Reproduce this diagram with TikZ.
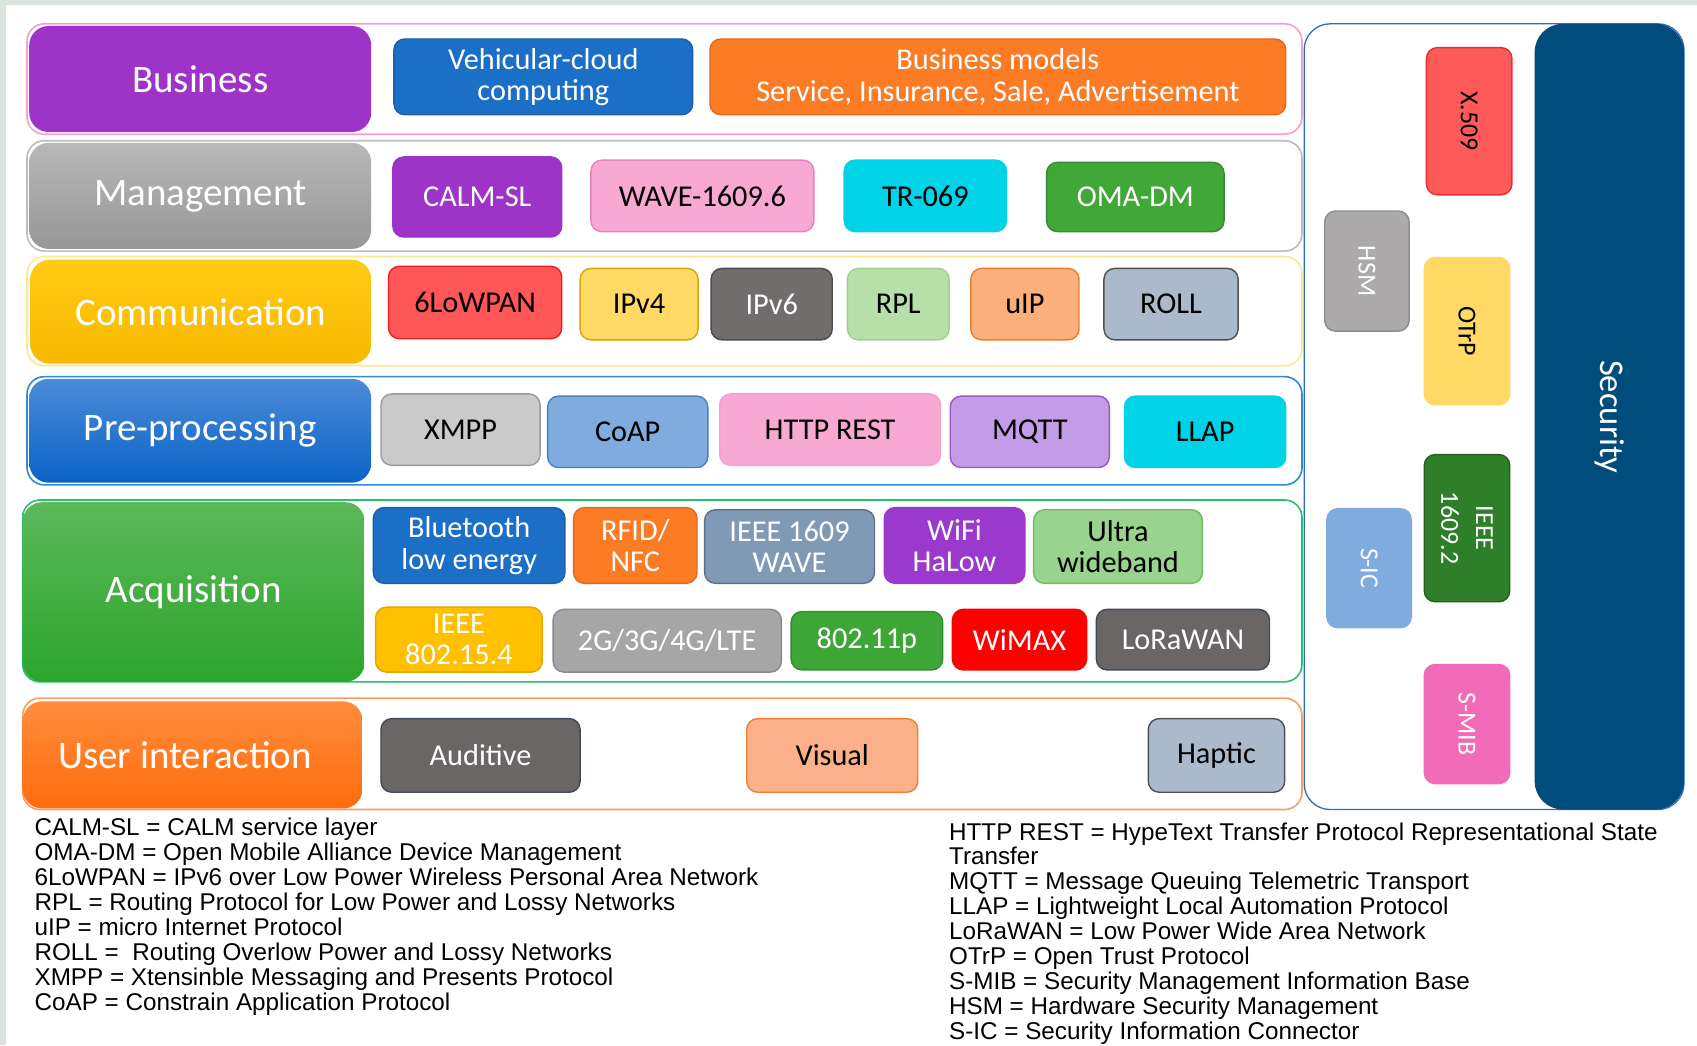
\documentclass[tikz,border=0pt]{standalone}
\usepackage{fontspec}
\setmainfont{Carlito}
\newfontfamily\legendfont{Liberation Sans}

% palette
\definecolor{frameGreen}{HTML}{DBE4DC}
\definecolor{busLine}{HTML}{F59FD3}
\definecolor{busPurple}{HTML}{9D33C7}
\definecolor{vcBlue}{HTML}{1B6FC6}
\definecolor{vcBlueD}{HTML}{1A5FA8}
\definecolor{bmOrange}{HTML}{FB7C24}
\definecolor{bmOrangeD}{HTML}{E0691A}
\definecolor{mgLine}{HTML}{BDBDBD}
\definecolor{mgTop}{HTML}{B8B8B8}
\definecolor{mgBot}{HTML}{979797}
\definecolor{calmPurple}{HTML}{9E33C8}
\definecolor{wavePink}{HTML}{F7A8D3}
\definecolor{wavePinkD}{HTML}{EA7FBD}
\definecolor{cyanT}{HTML}{00D3E6}
\definecolor{omaGreen}{HTML}{41A838}
\definecolor{omaGreenD}{HTML}{358C2E}
\definecolor{comLine}{HTML}{FDE893}
\definecolor{comTop}{HTML}{FFCB14}
\definecolor{comBot}{HTML}{F9B800}
\definecolor{lowRed}{HTML}{FF5757}
\definecolor{lowRedD}{HTML}{F01C1C}
\definecolor{ipvYellow}{HTML}{FFD966}
\definecolor{ipvYellowD}{HTML}{D8A600}
\definecolor{ipvGrey}{HTML}{716D6D}
\definecolor{ipvGreyD}{HTML}{4D4D4D}
\definecolor{rplGreen}{HTML}{B6E0A8}
\definecolor{rplGreenD}{HTML}{A0D090}
\definecolor{uipOrange}{HTML}{FBB07C}
\definecolor{uipOrangeD}{HTML}{EC7D2E}
\definecolor{steelBlue}{HTML}{AAB9CC}
\definecolor{darkEdge}{HTML}{505050}
\definecolor{preLine}{HTML}{2F8AD8}
\definecolor{preTop}{HTML}{4C8BD8}
\definecolor{preBot}{HTML}{0A63C7}
\definecolor{xmppGrey}{HTML}{CACACA}
\definecolor{xmppGreyD}{HTML}{9A9A9A}
\definecolor{coapBlue}{HTML}{80ABDF}
\definecolor{coapBlueD}{HTML}{4B7FC0}
\definecolor{mqttLav}{HTML}{C39BE6}
\definecolor{mqttLavD}{HTML}{9C55C6}
\definecolor{acqLine}{HTML}{24C56A}
\definecolor{acqTop}{HTML}{5CB85A}
\definecolor{acqBot}{HTML}{2CA52C}
\definecolor{waveSteel}{HTML}{8099B5}
\definecolor{waveSteelD}{HTML}{5A6F88}
\definecolor{wifiPurple}{HTML}{9A39CB}
\definecolor{uwbGreen}{HTML}{98D48D}
\definecolor{uwbGreenD}{HTML}{6CBD5C}
\definecolor{zigYellow}{HTML}{FFC000}
\definecolor{zigYellowD}{HTML}{E0A800}
\definecolor{cellGrey}{HTML}{A6A6A6}
\definecolor{cellGreyD}{HTML}{8A8A8A}
\definecolor{pGreen}{HTML}{3EA636}
\definecolor{wimaxRed}{HTML}{FF0000}
\definecolor{loraGrey}{HTML}{6A6666}
\definecolor{slateEdge}{HTML}{3F4A5A}
\definecolor{uiLine}{HTML}{FB9D62}
\definecolor{uiTop}{HTML}{FF8C3C}
\definecolor{uiBot}{HTML}{FF6C0C}
\definecolor{visOrange}{HTML}{FBB08A}
\definecolor{visOrangeD}{HTML}{F08030}
\definecolor{secLine}{HTML}{2E70B8}
\definecolor{secNavy}{HTML}{004C7C}
\definecolor{x509Red}{HTML}{FF5A5A}
\definecolor{x509RedD}{HTML}{E63030}
\definecolor{hsmGrey}{HTML}{ACAAAA}
\definecolor{hsmGreyD}{HTML}{8C8C8C}
\definecolor{dsrcGreen}{HTML}{2F7E2A}
\definecolor{dsrcGreenD}{HTML}{245F20}
\definecolor{smibPink}{HTML}{F26BB8}

\tikzset{
  tilebase/.style={inner sep=0pt, outer sep=0pt, align=center},
  rowline/.style={rounded corners=16pt, line width=1.5pt, fill=white},
  layer/.style={rounded corners=18pt, text=white, font=\fontsize{36}{40}\selectfont},
  tile/.style={rounded corners=10pt, line width=1.3pt, font=\fontsize{28}{29}\selectfont},
  vtext/.style={rounded corners=10pt, line width=1.3pt, font=\fontsize{24}{32}\selectfont},
  legend/.style={inner sep=0pt, outer sep=0pt, align=left, anchor=north west,
    font=\legendfont\fontsize{22.4}{23}\selectfont}
}

% a box given by its corners: name, x1, y1, x2, y2, style, text
\newcommand\tile[7]{%
  \pgfmathsetmacro\tileW{#4-#2}\pgfmathsetmacro\tileH{#5-#3}%
  \node[tilebase,#6,minimum width=\tileW pt,minimum height=\tileH pt]
    (#1) at ({(#2+#4)/2},{(#3+#5)/2}) {#7};}
% the same with text running top to bottom
\newcommand\vtile[7]{%
  \pgfmathsetmacro\tileW{#4-#2}\pgfmathsetmacro\tileH{#5-#3}%
  \node[tilebase,#6,rotate=-90,minimum width=\tileH pt,minimum height=\tileW pt]
    (#1) at ({(#2+#4)/2},{(#3+#5)/2}) {#7};}

\begin{document}
\begin{tikzpicture}[x=1pt,y=-1pt]
\useasboundingbox (0,0) rectangle (1568,966);
\fill[frameGreen] (0,0) rectangle (1568,966);
\fill[white] (6,5) rectangle (1568,966);

% ---- Business
\tile{busRow}{25}{22}{1203}{124}{rowline,draw=busLine}{}
\tile{busLbl}{27}{24}{343}{122}{layer,fill=busPurple}{Business}
\tile{vcc}{364}{36}{640}{106}{tile,fill=vcBlue,draw=vcBlueD,text=white}{Vehicular-cloud\\computing}
\tile{bizModels}{656}{36}{1188}{106}{tile,fill=bmOrange,draw=bmOrangeD,text=white}{Business models\\Service, Insurance, Sale, Advertisement}

% ---- Management
\tile{mgRow}{25}{130}{1203}{232}{rowline,draw=mgLine}{}
\tile{mgLbl}{27}{132}{343}{230}{layer,top color=mgTop,bottom color=mgBot}{Management}
\tile{calm}{363}{145}{519}{219}{tile,fill=calmPurple,draw=calmPurple,text=white}{CALM-SL}
\tile{wave}{546}{148}{752}{214}{tile,fill=wavePink,draw=wavePinkD}{WAVE-1609.6}
\tile{tr}{780}{148}{930}{214}{tile,fill=cyanT,draw=cyanT}{TR-069}
\tile{oma}{967}{150}{1131}{214}{tile,fill=omaGreen,draw=omaGreenD,text=white}{OMA-DM}

% ---- Communication
\tile{comRow}{25}{237}{1203}{338}{rowline,draw=comLine}{}
\tile{comLbl}{28}{240}{343}{336}{layer,top color=comTop,bottom color=comBot}{Communication}
\tile{lowpan}{359}{246}{519}{313}{tile,fill=lowRed,draw=lowRedD}{6LoWPAN}
\tile{ipv4}{536}{248}{645}{314}{tile,fill=ipvYellow,draw=ipvYellowD}{IPv4}
\tile{ipv6}{657}{248}{769}{314}{tile,fill=ipvGrey,draw=ipvGreyD,text=white}{IPv6}
\tile{rpl}{783}{248}{877}{314}{tile,fill=rplGreen,draw=rplGreenD}{RPL}
\tile{uip}{897}{248}{997}{314}{tile,fill=uipOrange,draw=uipOrangeD}{uIP}
\tile{roll}{1020}{248}{1144}{314}{tile,fill=steelBlue,draw=darkEdge}{ROLL}

% ---- Pre-processing
\tile{preRow}{25}{348}{1203}{448}{rowline,draw=preLine}{}
\tile{preLbl}{27}{350}{343}{446}{layer,top color=preTop,bottom color=preBot}{Pre-processing}
\tile{xmpp}{352}{364}{499}{430}{tile,fill=xmppGrey,draw=xmppGreyD}{XMPP}
\tile{coap}{506}{366}{654}{432}{tile,fill=coapBlue,draw=coapBlueD}{CoAP}
\tile{http}{665}{364}{869}{430}{tile,fill=wavePink,draw=busLine}{HTTP REST}
\tile{mqtt}{878}{366}{1025}{432}{tile,fill=mqttLav,draw=mqttLavD}{MQTT}
\tile{llap}{1039}{366}{1188}{432}{tile,fill=cyanT,draw=cyanT}{LLAP}

% ---- Acquisition
\tile{acqRow}{21}{462}{1203}{630}{rowline,draw=acqLine}{}
\tile{acqLbl}{21}{464}{337}{630}{layer,top color=acqTop,bottom color=acqBot}{Acquisition}
\tile{ble}{345}{469}{522}{539}{tile,fill=vcBlue,draw=vcBlueD,text=white}{Bluetooth\\low energy}
\tile{rfid}{530}{469}{644}{539}{tile,fill=bmOrange,draw=bmOrangeD,text=white}{RFID/\\NFC}
\tile{wsteel}{651}{471}{808}{539}{tile,fill=waveSteel,draw=waveSteelD,text=white}{IEEE 1609\\WAVE}
\tile{wifi}{817}{469}{947}{539}{tile,fill=wifiPurple,draw=wifiPurple,text=white}{WiFi\\HaLow}
\tile{uwb}{955}{471}{1111}{539}{tile,fill=uwbGreen,draw=uwbGreenD}{Ultra\\wideband}
\tile{zig}{347}{561}{501}{621}{tile,fill=zigYellow,draw=zigYellowD,text=white}{IEEE\\802.15.4}
\tile{cell}{511}{563}{722}{621}{tile,fill=cellGrey,draw=cellGreyD,text=white}{2G/3G/4G/LTE}
\tile{dsrc}{731}{565}{871}{619}{tile,fill=pGreen,draw=omaGreenD,text=white}{802.11p}
\tile{wimax}{880}{563}{1004}{619}{tile,fill=wimaxRed,draw=wimaxRed,text=white}{WiMAX}
\tile{lora}{1013}{563}{1173}{619}{tile,fill=loraGrey,draw=slateEdge,text=white}{LoRaWAN}

% ---- User interaction
\tile{uiRow}{21}{645}{1203}{748}{rowline,draw=uiLine}{}
\tile{uiLbl}{21}{648}{335}{747}{layer,top color=uiTop,bottom color=uiBot}{User interaction\hspace*{14pt}}
\tile{auditive}{352}{664}{536}{732}{tile,fill=loraGrey,draw=slateEdge,text=white}{Auditive}
\tile{visual}{690}{664}{848}{732}{tile,fill=visOrange,draw=visOrangeD}{Visual}
\tile{haptic}{1061}{664}{1187}{732}{tile,fill=steelBlue,draw=darkEdge}{Haptic}

% ---- Security column
\tile{secFrame}{1205}{22}{1556}{748}{rowline,rounded corners=24pt,line width=1.2pt,draw=secLine}{}
\vtile{secBar}{1418}{22}{1556}{748}{rounded corners=26pt,fill=secNavy,text=white,font=\fontsize{32}{36}\selectfont}{Security}
\vtile{x509}{1318}{44}{1397}{180}{vtext,fill=x509Red,draw=x509RedD}{X.509}
\vtile{hsm}{1224}{195}{1302}{306}{vtext,fill=hsmGrey,draw=hsmGreyD,text=white}{HSM}
\vtile{otrp}{1316}{238}{1395}{374}{vtext,fill=ipvYellow,draw=ipvYellow}{OTrP}
\vtile{sec16092}{1316}{420}{1395}{556}{vtext,fill=dsrcGreen,draw=dsrcGreenD,text=white}{IEEE\\1609.2}
\vtile{sic}{1226}{470}{1304}{580}{vtext,fill=coapBlue,draw=coapBlue,text=white}{S-IC}
\vtile{smib}{1316}{614}{1395}{724}{vtext,fill=smibPink,draw=smibPink,text=white}{S-MIB}

% ---- abbreviations
\node[legend] (abbrevLeft) at (32,756) {%
CALM-SL = CALM service layer\\
OMA-DM = Open Mobile Alliance Device Management\\
6LoWPAN = IPv6 over Low Power Wireless Personal Area Network\\
RPL = Routing Protocol for Low Power and Lossy Networks\\
uIP = micro Internet Protocol\\
ROLL = \ Routing Overlow Power and Lossy Networks\\
XMPP = Xtensinble Messaging and Presents Protocol\\
CoAP = Constrain Application Protocol};
\node[legend] (abbrevRight) at (877,760) {%
HTTP REST = HypeText Transfer Protocol Representational State\\
Transfer\\
MQTT = Message Queuing Telemetric Transport\\
LLAP = Lightweight Local Automation Protocol\\
LoRaWAN = Low Power Wide Area Network\\
OTrP = Open Trust Protocol\\
S-MIB = Security Management Information Base\\
HSM = Hardware Security Management\\
S-IC = Security Information Connector};
\end{tikzpicture}
\end{document}
